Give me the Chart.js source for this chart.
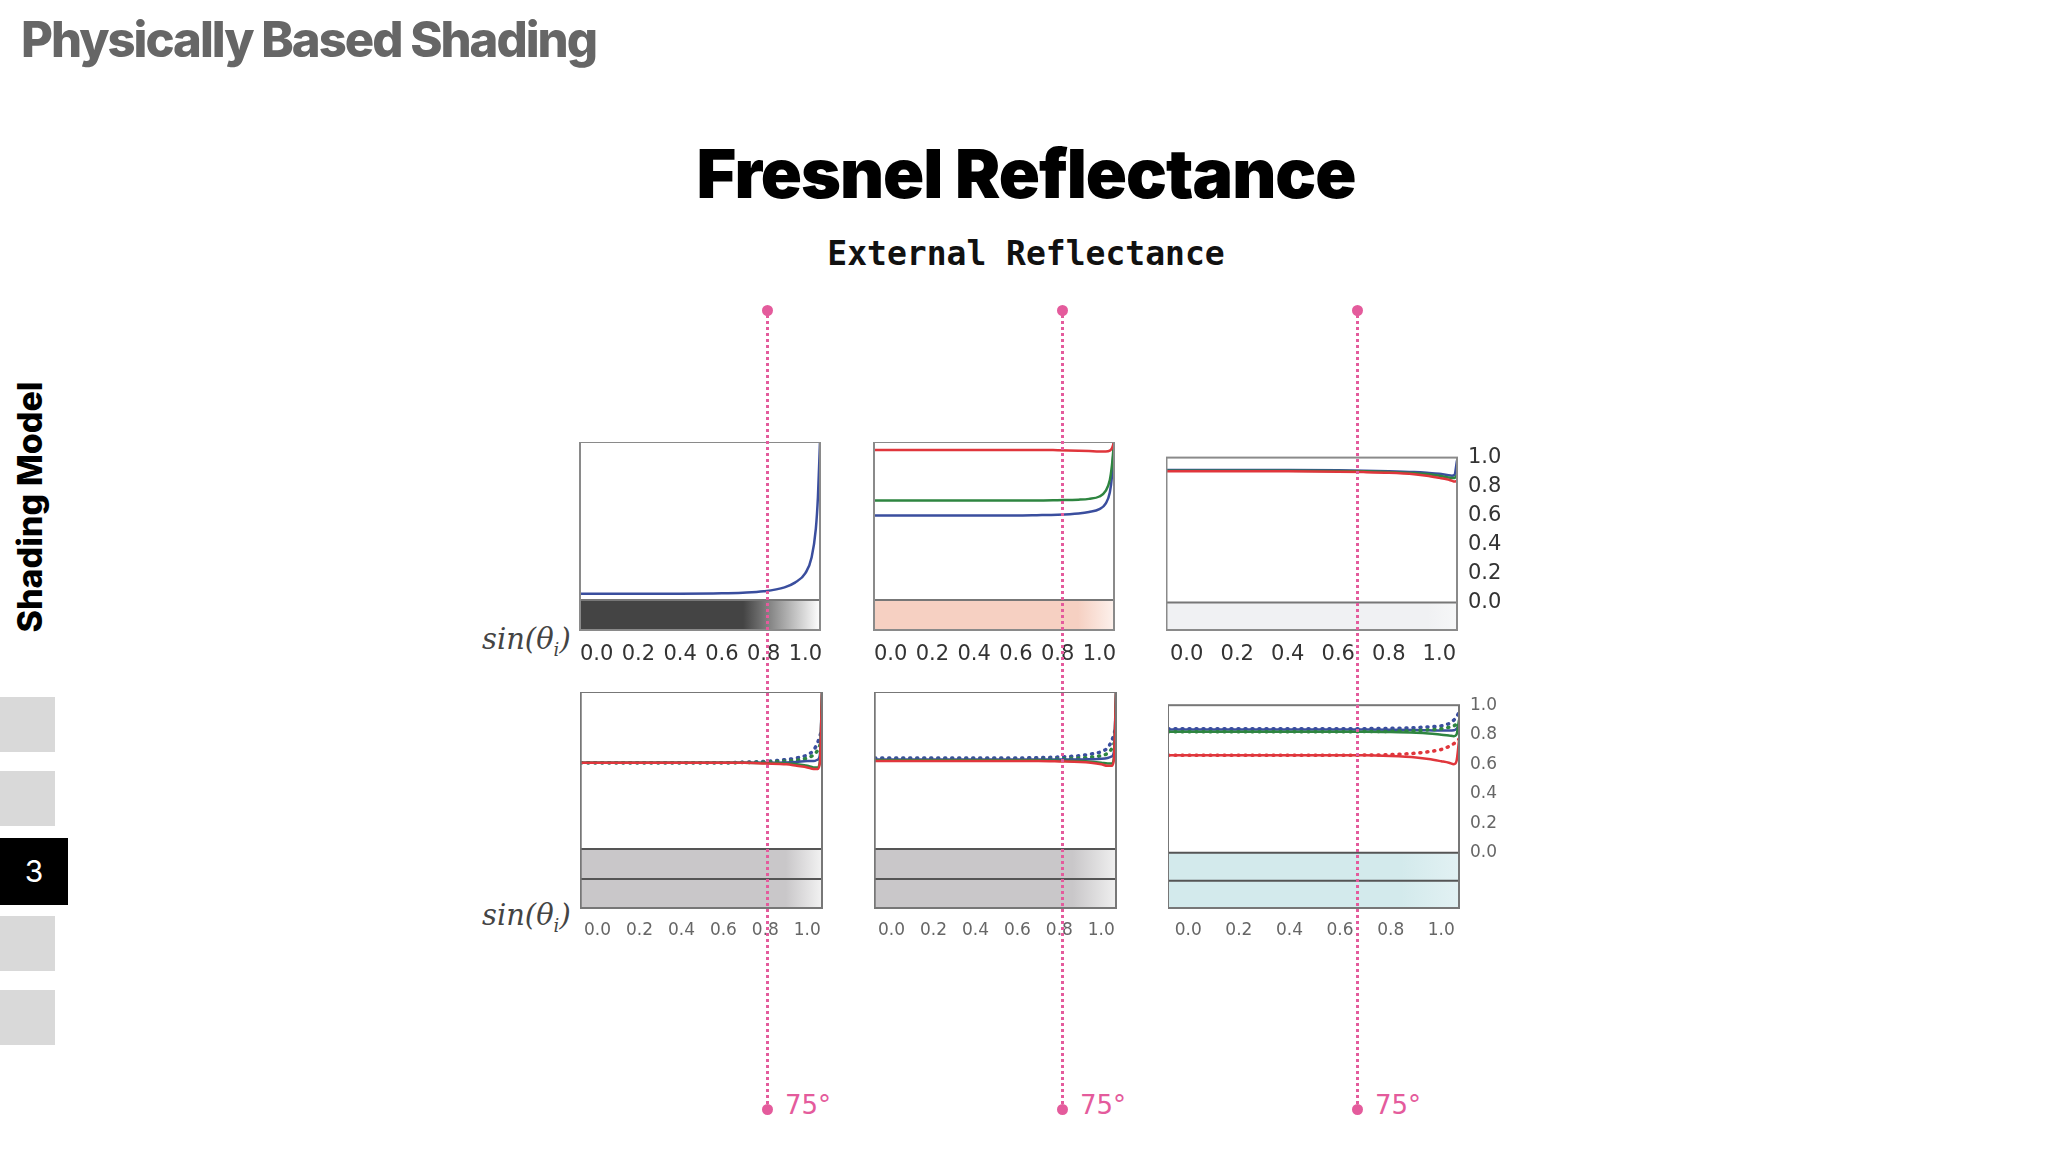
<!DOCTYPE html>
<html>
<head>
<meta charset="utf-8">
<script src="https://cdn.jsdelivr.net/npm/chart.js@4"></script>
<style>
  body { margin: 0; width: 2048px; height: 1152px; background: #fff; position: relative; overflow: hidden; font-family: Inter, 'Noto Sans', sans-serif; }
  .abs { position: absolute; }
  .box { position: absolute; background: #d9d9d9; left: 0; width: 55px; }
  .pink { position: absolute; width: 0; border-left: 3px dotted #e45b9c; top: 310px; height: 799px; }
  .dot { position: absolute; width: 11px; height: 11px; border-radius: 50%; background: #e45b9c; }
  .deg { position: absolute; color: #e45b9c; font: 26px 'DejaVu Sans', sans-serif; top: 1090px; }
  .sin { position: absolute; left: 482px; font: italic 29px 'DejaVu Serif', serif; color: #444; }
</style>
</head>
<body>
<div class="abs" style="left:21px;top:10px;font-size:49px;font-weight:800;color:#666;letter-spacing:-2px">Physically Based Shading</div>
<div class="abs" style="left:0;width:2052px;top:132px;text-align:center;font-size:68px;font-weight:900;color:#000;letter-spacing:-1px">Fresnel Reflectance</div>
<div class="abs" style="left:0;width:2052px;top:234px;text-align:center;font:bold 33px 'DejaVu Sans Mono', monospace;color:#111">External Reflectance</div>
<div class="abs" style="left:29px;top:507px;transform:translate(-50%,-50%) rotate(-90deg);font-size:34px;font-weight:800;white-space:nowrap">Shading Model</div>
<div class="box" style="top:697px;height:55px"></div>
<div class="box" style="top:771px;height:55px"></div>
<div class="box" style="top:838px;height:67px;width:68px;background:#000;color:#fff;font-size:30px;text-align:center;line-height:67px">3</div>
<div class="box" style="top:916px;height:55px"></div>
<div class="box" style="top:990px;height:55px"></div>
<div class="sin" style="top:622px">sin(θ<sub style="font-size:18px">i</sub>)</div>
<div class="sin" style="top:898px">sin(θ<sub style="font-size:18px">i</sub>)</div>
<div id="panels"></div>
<div id="marks"></div>
<script>
const xs = [-0.08, 0, 0.2, 0.4, 0.6, 0.7, 0.8, 0.9, 0.95, 1.0, 1.03, 1.05, 1.06, 1.07];
const xTicks = [0, 0.2, 0.4, 0.6, 0.8, 1.0];
const yTicks = [0, 0.2, 0.4, 0.6, 0.8, 1.0];

// top row
const t1Blue = [0.04, 0.04, 0.04, 0.04, 0.042, 0.046, 0.055, 0.08, 0.11, 0.17, 0.27, 0.45, 0.65, 1.0];
const t2Red = [0.95, 0.95, 0.95, 0.95, 0.95, 0.95, 0.948, 0.945, 0.943, 0.94, 0.94, 0.945, 0.96, 1.0];
const t2Green = [0.63, 0.63, 0.63, 0.63, 0.63, 0.63, 0.632, 0.635, 0.64, 0.655, 0.69, 0.76, 0.85, 1.0];
const t2Blue = [0.535, 0.535, 0.535, 0.535, 0.535, 0.537, 0.54, 0.548, 0.557, 0.575, 0.61, 0.68, 0.78, 1.0];
const t3Red = [0.905, 0.905, 0.905, 0.905, 0.903, 0.9, 0.895, 0.885, 0.875, 0.86, 0.85, 0.84, 0.835, 0.84];
const t3Green = [0.91, 0.91, 0.91, 0.91, 0.908, 0.905, 0.9, 0.893, 0.887, 0.875, 0.865, 0.86, 0.86, 0.88];
const t3Blue = [0.915, 0.915, 0.915, 0.915, 0.913, 0.91, 0.906, 0.9, 0.895, 0.888, 0.88, 0.875, 0.88, 0.98];

// bottom row (solid, and dotted)
const b1Red = [0.55, 0.55, 0.55, 0.55, 0.55, 0.55, 0.545, 0.54, 0.53, 0.52, 0.51, 0.51, 0.55, 1.0];
const b1Green = [0.55, 0.55, 0.55, 0.55, 0.55, 0.55, 0.548, 0.545, 0.54, 0.53, 0.52, 0.52, 0.56, 1.0];
const b1Blue = [0.55, 0.55, 0.55, 0.55, 0.55, 0.55, 0.55, 0.552, 0.555, 0.56, 0.56, 0.57, 0.6, 1.0];
const b1BlueDot = [0.55, 0.55, 0.55, 0.55, 0.55, 0.553, 0.558, 0.57, 0.58, 0.6, 0.63, 0.68, 0.72, 0.76];
const b1GreenDot = [0.55, 0.55, 0.55, 0.55, 0.55, 0.551, 0.554, 0.56, 0.565, 0.58, 0.6, 0.63, 0.66, 0.7];
const b2Red = [0.56, 0.56, 0.56, 0.56, 0.56, 0.56, 0.558, 0.555, 0.55, 0.54, 0.53, 0.53, 0.57, 1.0];
const b2Green = [0.565, 0.565, 0.565, 0.565, 0.565, 0.565, 0.563, 0.56, 0.556, 0.55, 0.545, 0.545, 0.58, 1.0];
const b2Blue = [0.57, 0.57, 0.57, 0.57, 0.57, 0.57, 0.57, 0.57, 0.572, 0.575, 0.58, 0.59, 0.62, 1.0];
const b2BlueDot = [0.58, 0.58, 0.58, 0.58, 0.58, 0.582, 0.586, 0.595, 0.605, 0.62, 0.645, 0.69, 0.73, 0.78];
const b2GreenDot = [0.57, 0.57, 0.57, 0.57, 0.57, 0.571, 0.574, 0.58, 0.585, 0.595, 0.61, 0.64, 0.67, 0.7];
const b3Red = [0.66, 0.66, 0.66, 0.66, 0.66, 0.66, 0.655, 0.645, 0.635, 0.62, 0.61, 0.6, 0.62, 0.76];
const b3RedDot = [0.66, 0.66, 0.66, 0.66, 0.66, 0.662, 0.665, 0.675, 0.685, 0.7, 0.72, 0.74, 0.755, 0.77];
const b3Green = [0.82, 0.82, 0.82, 0.82, 0.82, 0.82, 0.818, 0.813, 0.808, 0.8, 0.795, 0.79, 0.8, 0.9];
const b3GreenDot = [0.82, 0.82, 0.82, 0.82, 0.82, 0.821, 0.823, 0.828, 0.833, 0.84, 0.85, 0.86, 0.87, 0.88];
const b3Blue = [0.835, 0.835, 0.835, 0.835, 0.835, 0.835, 0.834, 0.832, 0.83, 0.828, 0.828, 0.83, 0.84, 0.87];
const b3BlueDot = [0.84, 0.84, 0.84, 0.84, 0.84, 0.841, 0.843, 0.848, 0.853, 0.86, 0.875, 0.9, 0.92, 0.95];

const RED = '#e0363c', GREEN = '#2e8540', BLUE = '#3a4e9e';

function pts(ys) { return ys.map((y, i) => ({ x: xs[i], y: y })); }
function solid(ys, c) { return { data: pts(ys), borderColor: c, borderWidth: 2.5, pointRadius: 0, cubicInterpolationMode: 'monotone' }; }
function dotted(ys, c) { return { data: pts(ys), borderColor: c, borderWidth: 3.5, borderDash: [1, 6], borderCapStyle: 'round', pointRadius: 0, cubicInterpolationMode: 'monotone' }; }

const panelPlugin = {
  id: 'panel',
  beforeDatasetsDraw(chart, args, opts) {
    const { ctx, chartArea: a, scales } = chart;
    const y0 = scales.y.getPixelForValue(0);
    const g = ctx.createLinearGradient(a.left, 0, a.right, 0);
    g.addColorStop(0, opts.bar);
    g.addColorStop(opts.fade, opts.bar);
    g.addColorStop(1, opts.end);
    ctx.save();
    ctx.fillStyle = g;
    ctx.fillRect(a.left, y0, a.right - a.left, a.bottom - y0);
    ctx.strokeStyle = opts.line;
    ctx.lineWidth = 2;
    ctx.beginPath();
    ctx.moveTo(a.left, y0); ctx.lineTo(a.right, y0);
    if (opts.mid !== undefined) {
      const ym = scales.y.getPixelForValue(opts.mid);
      ctx.moveTo(a.left, ym); ctx.lineTo(a.right, ym);
    }
    ctx.stroke();
    ctx.restore();
  },
  afterDraw(chart, args, opts) {
    const { ctx, chartArea: a } = chart;
    ctx.save();
    ctx.strokeStyle = opts.frame;
    ctx.lineWidth = 2;
    ctx.strokeRect(a.left, a.top, a.right - a.left, a.bottom - a.top);
    ctx.restore();
  }
};

function makePanel(p) {
  const wrap = document.createElement('div');
  const w = p.w + (p.axis ? 48 : 0);
  wrap.style.cssText = `position:absolute;left:${p.x}px;top:${p.y}px;width:${w}px;height:${p.h + 32}px`;
  const cv = document.createElement('canvas');
  wrap.appendChild(cv);
  document.getElementById('panels').appendChild(wrap);
  new Chart(cv, {
    type: 'line',
    plugins: [panelPlugin],
    data: { datasets: p.sets },
    options: {
      responsive: true, maintainAspectRatio: false, animation: false,
      layout: { padding: 0, autoPadding: false },
      plugins: { legend: { display: false }, tooltip: { enabled: false },
        panel: { bar: p.bar, end: p.end, fade: p.fade, line: p.line, mid: p.mid, frame: p.frame } },
      scales: {
        x: {
          type: 'linear', min: -0.08, max: 1.07,
          afterBuildTicks: (s) => { s.ticks = xTicks.map(v => ({ value: v })); },
          afterFit: (s) => { s.height = 32; },
          grid: { display: false }, border: { display: false },
          ticks: { color: p.tick, font: { size: p.fs, family: 'DejaVu Sans' }, padding: 4, maxRotation: 0, autoSkip: false, callback: v => v.toFixed(1) }
        },
        y: {
          display: !!p.axis, position: 'right',
          min: p.ymin, max: 1.0,
          afterBuildTicks: (s) => { s.ticks = yTicks.map(v => ({ value: v })); },
          afterFit: (s) => { s.width = 48; },
          grid: { display: false }, border: { display: false },
          ticks: { color: p.tick, font: { size: p.fs, family: 'DejaVu Sans' }, padding: 3, callback: v => v.toFixed(1) }
        }
      }
    }
  });
}

const topCommon = { y: 442, h: 188, ymin: -0.19, tick: '#333', fs: 21, line: '#777', frame: '#8a8a8a' };
makePanel({ ...topCommon, x: 576, w: 292, bar: '#444444', end: '#ffffff', fade: 0.68, sets: [solid(t1Blue, BLUE)] });
makePanel({ ...topCommon, x: 870, w: 292, bar: '#f6d0c2', end: '#fdf1ec', fade: 0.85, sets: [solid(t2Red, RED), solid(t2Green, GREEN), solid(t2Blue, BLUE)] });
makePanel({ ...topCommon, x: 1166, w: 291, axis: true, bar: '#f0f1f3', end: '#f6f7f8', fade: 0.9, sets: [solid(t3Red, RED), solid(t3Green, GREEN), solid(t3Blue, BLUE)] });

const botCommon = { y: 692, h: 216, ymin: -0.375, tick: '#666', fs: 17, line: '#555', mid: -0.19, frame: '#777' };
makePanel({ ...botCommon, x: 580, w: 290, bar: '#c9c7c9', end: '#f2f2f2', fade: 0.85, sets: [solid(b1Red, RED), solid(b1Green, GREEN), solid(b1Blue, BLUE), dotted(b1GreenDot, GREEN), dotted(b1BlueDot, BLUE)] });
makePanel({ ...botCommon, x: 874, w: 290, bar: '#c9c7c9', end: '#efefef', fade: 0.82, sets: [solid(b2Red, RED), solid(b2Green, GREEN), solid(b2Blue, BLUE), dotted(b2GreenDot, GREEN), dotted(b2BlueDot, BLUE)] });
makePanel({ ...botCommon, x: 1168, w: 291, axis: true, bar: '#d3eaec', end: '#e2f1f3', fade: 0.8, sets: [solid(b3Red, RED), dotted(b3RedDot, RED), solid(b3Green, GREEN), dotted(b3GreenDot, GREEN), solid(b3Blue, BLUE), dotted(b3BlueDot, BLUE)] });

// 75 degree markers
const markX = [767, 1062, 1357];
const marks = document.getElementById('marks');
markX.forEach(x => {
  marks.insertAdjacentHTML('beforeend',
    `<div class="pink" style="left:${x - 1}px"></div>
     <div class="dot" style="left:${x - 5}px;top:305px"></div>
     <div class="dot" style="left:${x - 5}px;top:1104px"></div>
     <div class="deg" style="left:${x + 18}px">75°</div>`);
});
</script>
</body>
</html>
